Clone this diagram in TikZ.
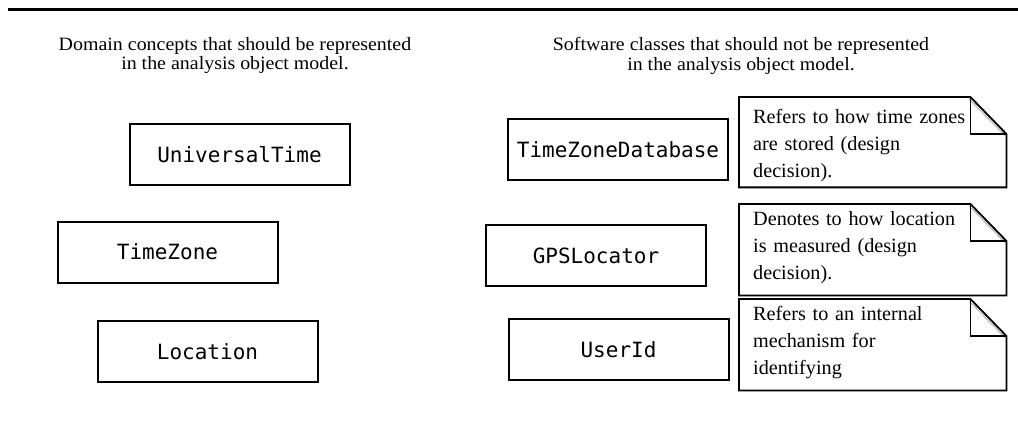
\documentclass[tikz,border=0pt]{standalone}
\usepackage{fontspec}
\setmainfont{Liberation Serif}
\newfontfamily\clsfont{DejaVu Sans Mono}
\newfontfamily\headfont{Liberation Serif}[FakeStretch=1.06]
\usetikzlibrary{calc}
\begin{document}
\begin{tikzpicture}[x=1pt,y=-1pt,
  cls/.style={draw, line width=2pt, inner sep=0pt, minimum width=220pt, minimum height=61pt,
    font=\clsfont\fontsize{21}{25}\selectfont},
  notefr/.style={draw=none, inner sep=0pt, minimum width=267pt, anchor=north west},
  notetext/.style={anchor=north west, align=left, text width=245pt, inner sep=0pt,
    font=\fontsize{20.2}{27}\selectfont},
  head/.style={align=center, inner sep=0pt, anchor=north, font=\headfont\fontsize{18.8}{19.3}\selectfont},
  noteline/.style={line width=1.8pt, line join=miter},
  foldshade/.style={line width=0.8pt, gray!70},
  rule/.style={line width=3pt}]
\useasboundingbox (0,0) rectangle (1018,433);

% top rule
\coordinate (ruleL) at (8,9.5);
\coordinate (ruleR) at (1018,9.5);
\draw[rule] (ruleL) -- (ruleR);

% headers
\node[head] (hl) at (235,37.3) {Domain concepts that should be represented\\in the analysis object model.};
\node[head] (hr) at (741,37.3) {Software classes that should not be represented\\in the analysis object model.};

% domain concepts
\node[cls] (ut) at (239.5,154.5) {UniversalTime};
\node[cls] (tz) at (167.5,252) {TimeZone};
\node[cls] (loc) at (207.5,351.5) {Location};

% software classes
\node[cls] (tzd) at (618,150) {TimeZoneDatabase};
\node[cls] (gps) at (596,255.5) {GPSLocator};
\node[cls] (uid) at (618.5,349.5) {UserId};

% notes frames
\node[notefr, minimum height=90pt] (n1) at (739,97) {};
\node[notefr, minimum height=91pt] (n2) at (739,204) {};
\node[notefr, minimum height=91pt] (n3) at (739,299) {};

\foreach \n in {n1,n2,n3}{
  \draw[foldshade] ($(\n.north east)+(-37.5,1.8)$) -- ($(\n.north east)+(-1.5,38.5)$);
  \draw[noteline] (\n.north west) -- ($(\n.north east)+(-36,0)$) -- ($(\n.north east)+(0,37)$)
    -- (\n.south east) -- (\n.south west) -- cycle;
  \draw[noteline] ($(\n.north east)+(-36,0)$) -- ($(\n.north east)+(-36,37)$) -- ($(\n.north east)+(0,37)$);
}

% note texts
\node[notetext] (t1) at (753,109) {Refers to how time zones\\are stored (design\\decision).};
\node[notetext] (t2) at (753,211.5) {Denotes to how location\\is measured (design\\decision).};
\node[notetext] (t3) at (753,306) {Refers to an internal\\mechanism for\\identifying};
\end{tikzpicture}
\end{document}
